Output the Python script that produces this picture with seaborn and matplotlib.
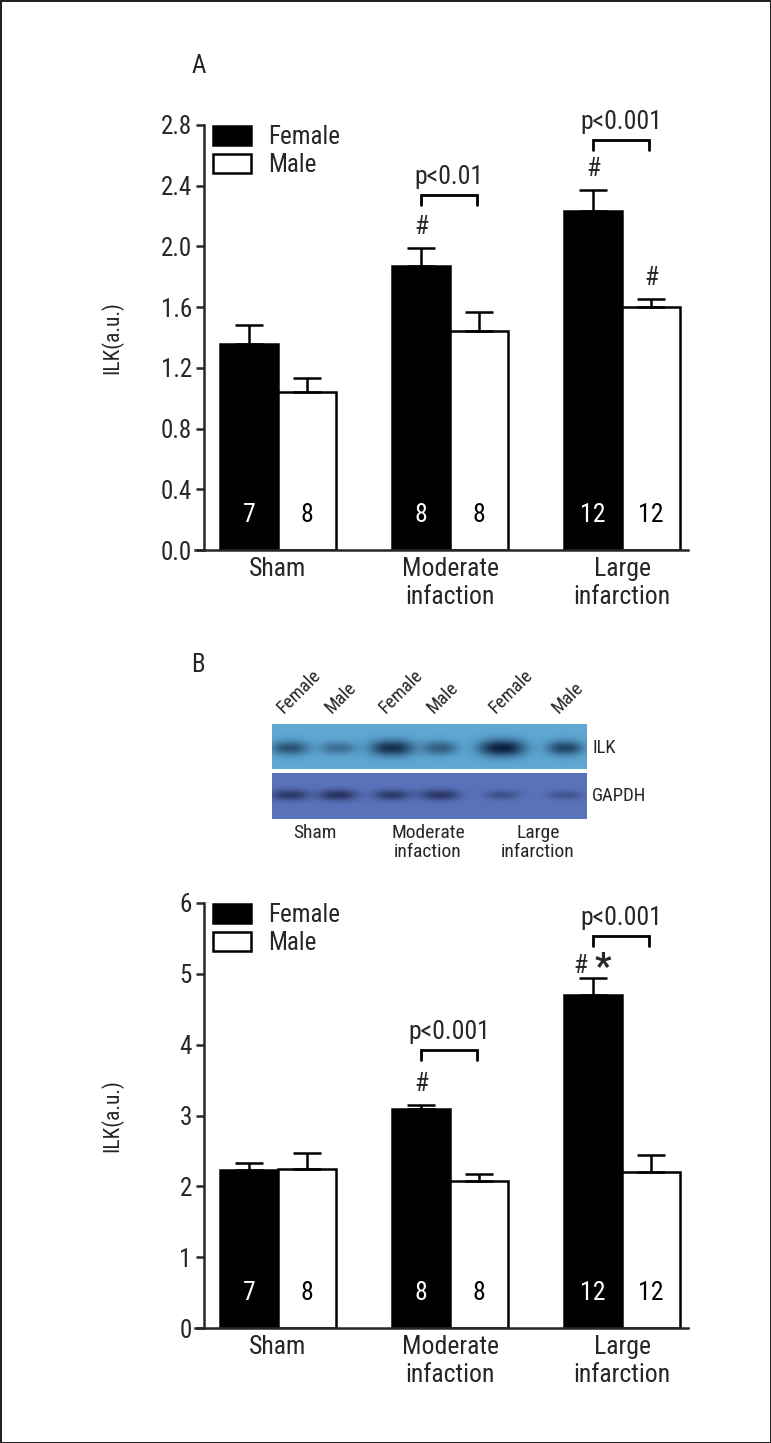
import numpy as np
import pandas as pd
import seaborn as sns
import matplotlib.pyplot as plt
from matplotlib import font_manager

GROUPS = ['Sham', 'Moderate\ninfaction', 'Large\ninfarction']
SEXES = ['Female', 'Male']
N_FEMALE = [7, 8, 12]
N_MALE = [8, 8, 12]

# Panel A
A_FEMALE = [1.36, 1.87, 2.235]
A_MALE = [1.04, 1.44, 1.60]
A_FEMALE_ERR = [0.12, 0.12, 0.135]
A_MALE_ERR = [0.095, 0.125, 0.055]
A_TICKS = [0.0, 0.4, 0.8, 1.2, 1.6, 2.0, 2.4, 2.8]
A_TICKLABELS = ['0.0', '0.4', '0.8', '1.2', '1.6', '2.0', '2.4', '2.8']

# Panel B
B_FEMALE = [2.23, 3.09, 4.70]
B_MALE = [2.245, 2.08, 2.20]
B_FEMALE_ERR = [0.10, 0.06, 0.24]
B_MALE_ERR = [0.22, 0.10, 0.24]
B_TICKS = [0, 1, 2, 3, 4, 5, 6]
B_TICKLABELS = ['0', '1', '2', '3', '4', '5', '6']

# significance marks: (group, sex, text)
A_HASHES = [(1, 0, '#'), (2, 0, '#'), (2, 1, '#')]
B_HASHES = [(1, 0, '#'), (2, 0, '#')]
B_STARS = [(2, 0, '*')]
A_BRACKETS = [(1, 'p<0.01', 2.34), (2, 'p<0.001', 2.70)]
B_BRACKETS = [(1, 'p<0.001', 3.93), (2, 'p<0.001', 5.54)]

# western blot
LANE_LABELS = ['Female', 'Male', 'Female', 'Male', 'Female', 'Male']
LANE_X = [290, 338, 392, 440, 502, 565]
ILK_BAND = [0.62, 0.42, 0.88, 0.55, 1.0, 0.72]
ILK_BAND_W = [19, 18, 22, 17, 23, 18]
GAPDH_BAND = [0.72, 0.78, 0.68, 0.72, 0.42, 0.38]
GAPDH_BAND_W = [19, 19, 19, 20, 18, 18]
BLOT_GROUPS = ['Sham', 'Moderate\ninfaction', 'Large\ninfarction']
BLOT_GROUP_X = [315, 428, 538]

names = {f.name for f in font_manager.fontManager.ttflist}
FONT = next((f for f in ['Liberation Sans Narrow', 'Roboto Condensed', 'Open Sans Condensed',
                         'Arial Narrow', 'Liberation Sans'] if f in names), 'DejaVu Sans')

sns.set_style('ticks')
plt.rcParams['font.family'] = [FONT, 'DejaVu Sans']
plt.rcParams['axes.linewidth'] = 1.8

W, H = 771, 1443
fig = plt.figure(figsize=(W / 100, H / 100), dpi=100, linewidth=2, edgecolor='#222222')

X_LEFT, X_RIGHT, GROUP0, STEP, SPINE_X = 195, 688, 278, 172, 204


def px_axes(left, top, right, bottom):
    return fig.add_axes([left / W, 1 - bottom / H, (right - left) / W, (bottom - top) / H])


def draw_panel(ax, female, male, f_err, m_err, ticks, ticklabels, hashes, stars, brackets):
    df = pd.DataFrame({'group': GROUPS * 2,
                       'sex': ['Female'] * 3 + ['Male'] * 3,
                       'value': female + male})
    sns.barplot(df, x='group', y='value', hue='sex', order=GROUPS, hue_order=SEXES,
                palette={'Female': 'black', 'Male': 'white'}, edgecolor='black',
                linewidth=1.8, width=0.674, gap=0, errorbar=None, ax=ax)
    ymax = ticks[-1]
    ax.set_xlim((X_LEFT - GROUP0) / STEP, (X_RIGHT - GROUP0) / STEP)
    ax.set_ylim(0, ymax)
    ax.spines['left'].set_position(('data', (SPINE_X - GROUP0) / STEP))
    ax.spines['left'].set_bounds(0, ymax)
    sns.despine(ax=ax)
    ax.set_yticks(ticks, ticklabels)
    ax.tick_params(axis='y', length=5.8, width=1.8, pad=3, labelsize=18)
    ax.tick_params(axis='x', length=0, pad=5, labelsize=18.5)
    ax.set_xlabel('')
    ax.set_ylabel('ILK(a.u.)', fontsize=15.5)
    ax.yaxis.set_label_coords((123 - X_LEFT) / (X_RIGHT - X_LEFT), 0.5)

    tops = {}
    for s, (container, errs, ns, color) in enumerate(zip(ax.containers, [f_err, m_err],
                                                          [N_FEMALE, N_MALE], ['white', 'black'])):
        for g, (bar, e, n) in enumerate(zip(container, errs, ns)):
            x = bar.get_x() + bar.get_width() / 2
            h = bar.get_height()
            ax.errorbar(x, h, yerr=[[0], [e]], fmt='none', ecolor='black', elinewidth=1.8,
                        capsize=10, capthick=1.8, clip_on=False)
            ax.annotate(str(n), (x, 0), xytext=(0, 25), textcoords='offset points',
                        ha='center', va='center', color=color, fontsize=18.5)
            tops[(g, s)] = (x, h + e)

    starred = [(g, s) for g, s, _ in stars]
    for g, s, t in hashes:
        x, y = tops[(g, s)]
        dx, dy = (-9, 9) if (g, s) in starred else (0, 15)
        ax.annotate(t, (x, y), xytext=(dx, dy), textcoords='offset points',
                    ha='center', va='center', fontsize=18.5)
    for g, s, t in stars:
        x, y = tops[(g, s)]
        ax.annotate(t, (x, y), xytext=(7, 7), textcoords='offset points',
                    ha='center', va='center', fontsize=26, fontweight='bold')

    leg = 10 * ymax / 425
    for g, label, y in brackets:
        x1 = tops[(g, 0)][0]
        x2 = tops[(g, 1)][0] - 0.01
        ax.plot([x1, x1, x2, x2], [y - leg, y, y, y - leg], color='black', lw=2.0,
                clip_on=False, solid_capstyle='round', solid_joinstyle='miter')
        ax.annotate(label, ((x1 + x2) / 2, y), xytext=(0, 13), textcoords='offset points',
                    ha='center', va='center', fontsize=18.5)

    ax.legend(loc='upper left', bbox_to_anchor=((213 - X_LEFT) / (X_RIGHT - X_LEFT), 1.0),
              frameon=False, fontsize=18, handlelength=1.5, handleheight=0.78,
              handletextpad=0.7, labelspacing=0.18, borderaxespad=0, borderpad=0)


ax_a = px_axes(X_LEFT, 125, X_RIGHT, 550)
draw_panel(ax_a, A_FEMALE, A_MALE, A_FEMALE_ERR, A_MALE_ERR, A_TICKS, A_TICKLABELS,
           A_HASHES, [], A_BRACKETS)

ax_b = px_axes(X_LEFT, 903, X_RIGHT, 1328)
draw_panel(ax_b, B_FEMALE, B_MALE, B_FEMALE_ERR, B_MALE_ERR, B_TICKS, B_TICKLABELS,
           B_HASHES, B_STARS, B_BRACKETS)

fig.text(199 / W, 1 - 66 / H, 'A', fontsize=18, ha='center', va='center')
fig.text(198 / W, 1 - 665 / H, 'B', fontsize=18, ha='center', va='center')

# blot strips, drawn in pixel units
ax_blot = px_axes(272, 724, 587, 819)
ax_blot.axis('off')


def strip(y0, y1, base, dark, yc, strengths, widths, thick):
    xs = np.arange(272, 587) + 0.5
    ys = np.arange(y0, y1) + 0.5
    X, Y = np.meshgrid(xs, ys)
    m = np.zeros_like(X)
    for cx, a, w in zip(LANE_X, strengths, widths):
        m += a * np.exp(-(np.abs((X - cx) / w) ** 2.5) - ((Y - yc) / (thick * (0.7 + 0.5 * a))) ** 2)
    m = np.clip(m, 0, 1)[..., None]
    img = np.array(base)[None, None, :] * (1 - m) + np.array(dark)[None, None, :] * m
    ax_blot.imshow(img, extent=(272, 587, y1, y0), aspect='auto', interpolation='bilinear')


strip(724, 769, (0.37, 0.66, 0.83), (0.04, 0.12, 0.24), 748, ILK_BAND, ILK_BAND_W, 7)
strip(773, 819, (0.35, 0.45, 0.73), (0.10, 0.13, 0.28), 795, GAPDH_BAND, GAPDH_BAND_W, 5)
ax_blot.set_xlim(272, 587)
ax_blot.set_ylim(819, 724)

for x, label in zip(LANE_X, LANE_LABELS):
    ax_blot.text(x - 4, 717, label, rotation=45, rotation_mode='anchor', ha='left',
                 va='bottom', fontsize=13.5, clip_on=False)
ax_blot.text(592, 748, 'ILK', ha='left', va='center', fontsize=13.5, clip_on=False)
ax_blot.text(592, 796, 'GAPDH', ha='left', va='center', fontsize=13.5, clip_on=False)
for x, label in zip(BLOT_GROUP_X, BLOT_GROUPS):
    ax_blot.text(x, 824, label, ha='center', va='top', fontsize=14, clip_on=False,
                 linespacing=1.1)

fig.savefig('out.png', dpi=100)
